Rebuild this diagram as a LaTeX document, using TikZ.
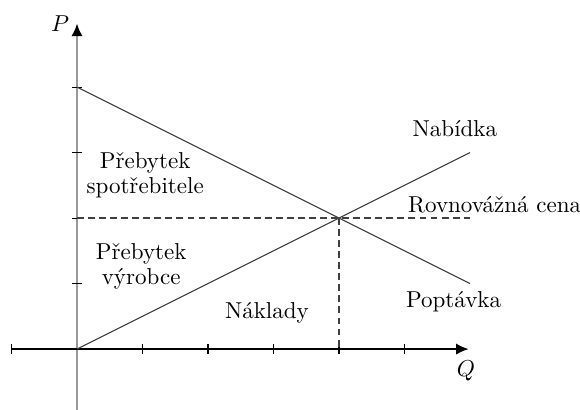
\documentclass[tikz,border=0pt]{standalone}
\usetikzlibrary{arrows.meta}
\begin{document}
\begin{tikzpicture}[
  curve/.style={draw=black!75, line width=0.5pt},
  dashln/.style={draw=black!75, line width=0.6pt, dash pattern=on 3pt off 1.8pt},
  tickmark/.style={draw=black, line width=0.5pt},
  lbl/.style={inner sep=0pt, font=\normalsize},
  tip/.style={-{Latex[length=0.19cm,width=0.17cm,color=black]}}
]
\useasboundingbox (-1.176,-0.93) rectangle (7.68,5.33);
% coordinates
\coordinate (O) at (0,0);
\coordinate (xl) at (-1,0);
\coordinate (xr) at (5.98,0);
\coordinate (yb) at (0,-0.93);
\coordinate (yt) at (0,4.97);
\coordinate (D1) at (0,4);
\coordinate (D2) at (6,1);
\coordinate (S2) at (6,3);
\coordinate (E) at (4,2);
\coordinate (Py) at (0,2);
\coordinate (Pr) at (6,2);
\coordinate (Ex) at (4,0);
% axes
\draw[draw=black!40, line width=0.8pt, tip] (yb) -- (yt);
\draw[draw=black, line width=0.7pt, tip] (xl) -- (xr);
\draw[tickmark] (-1,-0.07) -- (-1,0.07);
\foreach \i in {1,...,5} \draw[tickmark] (\i,-0.07) -- (\i,0.07);
\foreach \i in {1,...,4} \draw[tickmark] (-0.07,\i) -- (0.07,\i);
% dashed
\draw[dashln] (Py) -- (Pr);
\draw[dashln] (E) -- (Ex);
% curves
\draw[curve] (D1) -- (D2);
\draw[curve] (O) -- (S2);
% labels
\node[lbl] (P) at (-0.26,4.97) {$P$};
\node[lbl] (Q) at (5.94,-0.33) {$Q$};
\node[lbl, anchor=base] (nab) at (5.77,3.24) {Nabídka};
\node[lbl, anchor=base west] (rc) at (5.05,2.09) {Rovnovážná cena};
\node[lbl, anchor=base] (pop) at (5.75,0.63) {Poptávka};
\node[lbl, anchor=base] (nak) at (2.90,0.46) {Náklady};
\node[lbl, anchor=base, align=center] (ps) at (1.04,2.37) {Přebytek\\[-1.2pt]spotřebitele};
\node[lbl, anchor=base, align=center] (pv) at (0.98,0.99) {Přebytek\\[-1.2pt]výrobce};
\end{tikzpicture}
\end{document}
